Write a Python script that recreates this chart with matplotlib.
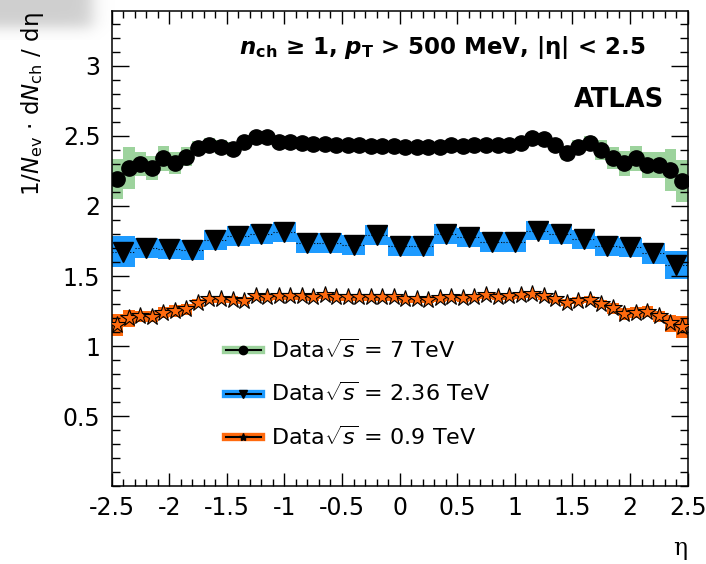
import numpy as np
import matplotlib
matplotlib.use("Agg")
import matplotlib.pyplot as plt
from matplotlib.lines import Line2D

plt.rcParams['font.family'] = ['DejaVu Sans']
plt.rcParams['mathtext.fontset'] = 'custom'
plt.rcParams['mathtext.rm'] = 'DejaVu Sans'
plt.rcParams['mathtext.it'] = 'DejaVu Sans:italic'
plt.rcParams['mathtext.bf'] = 'DejaVu Sans:bold'
plt.rcParams['mathtext.bfit'] = 'DejaVu Sans:bold:italic'

# 7 TeV, 50 bins of 0.1 in eta
eta_fine = np.linspace(-2.45, 2.45, 50)
val_7tev = [2.193, 2.269, 2.298, 2.274, 2.341, 2.305, 2.352, 2.412, 2.436, 2.424,
            2.405, 2.455, 2.491, 2.491, 2.455, 2.455, 2.450, 2.446, 2.443, 2.439,
            2.436, 2.432, 2.429, 2.429, 2.425,
            2.424, 2.424, 2.424, 2.424, 2.436, 2.431, 2.436, 2.436, 2.436, 2.436,
            2.448, 2.484, 2.476, 2.436, 2.376, 2.424, 2.448, 2.400, 2.341, 2.305,
            2.341, 2.293, 2.293, 2.257, 2.181]
sys_7tev = [0.14, 0.15, 0.085, 0.085, 0.09, 0.08, 0.07, 0.05, 0.05, 0.05,
            0.05, 0.04, 0.04, 0.04, 0.04, 0.035, 0.03, 0.03, 0.03, 0.03,
            0.03, 0.03, 0.03, 0.03, 0.03,
            0.03, 0.03, 0.03, 0.03, 0.03, 0.03, 0.03, 0.03, 0.03, 0.035,
            0.04, 0.04, 0.04, 0.04, 0.05, 0.05, 0.05, 0.07, 0.08, 0.09,
            0.09, 0.09, 0.09, 0.15, 0.15]

# 2.36 TeV, 25 bins of 0.2
eta_coarse = np.linspace(-2.4, 2.4, 25)
val_236 = [1.674, 1.698, 1.691, 1.686, 1.757, 1.786, 1.800, 1.816, 1.738, 1.734,
           1.721, 1.793, 1.712, 1.714, 1.800, 1.776, 1.745, 1.745, 1.824, 1.800,
           1.762, 1.714, 1.705, 1.662, 1.579]
sys_236 = [0.11, 0.07, 0.07, 0.07, 0.07, 0.07, 0.07, 0.07, 0.07, 0.07,
           0.07, 0.07, 0.07, 0.07, 0.07, 0.07, 0.07, 0.07, 0.07, 0.07,
           0.07, 0.07, 0.07, 0.077, 0.10]

# 0.9 TeV, 50 bins of 0.1
val_09 = [1.150, 1.198, 1.214, 1.209, 1.238, 1.250, 1.262, 1.309, 1.333, 1.333,
          1.329, 1.324, 1.357, 1.348, 1.357, 1.357, 1.357, 1.348, 1.364, 1.348,
          1.348, 1.348, 1.348, 1.348, 1.348,
          1.333, 1.333, 1.329, 1.341, 1.348, 1.341, 1.348, 1.364, 1.352, 1.357,
          1.364, 1.371, 1.357, 1.333, 1.309, 1.324, 1.329, 1.300, 1.269, 1.229,
          1.238, 1.245, 1.214, 1.162, 1.138]
sys_09 = [0.08, 0.06, 0.04, 0.04, 0.04, 0.04, 0.04, 0.03, 0.025, 0.025,
          0.025, 0.025, 0.025, 0.025, 0.025, 0.025, 0.025, 0.025, 0.025, 0.025,
          0.025, 0.025, 0.025, 0.025, 0.025,
          0.025, 0.025, 0.025, 0.025, 0.025, 0.025, 0.025, 0.025, 0.025, 0.025,
          0.025, 0.025, 0.025, 0.025, 0.025, 0.025, 0.025, 0.03, 0.04, 0.04,
          0.04, 0.04, 0.04, 0.06, 0.08]

green = '#9dd39d'
blue = '#1e9bff'
orange = '#ff6a0e'

fig = plt.figure(figsize=(7.06, 5.64), dpi=100)
ax = fig.add_axes([0.158, 0.138, 0.816, 0.842])

# faint grey smudge in the top-left corner of the original
sh = fig.add_axes([0, 1 - 40 / 564, 115 / 706, 40 / 564], zorder=-1)
xx, yy = np.meshgrid(np.arange(115), np.arange(40))
alpha = 0.42 / (1 + np.exp(-(92 - xx) / 5.0)) / (1 + np.exp(-(27 - yy) / 4.0))
img = np.zeros((40, 115, 4))
img[..., :3] = 0.55
img[..., 3] = alpha
sh.imshow(img, aspect='auto', interpolation='bilinear')
sh.axis('off')

v7, s7 = np.array(val_7tev), np.array(sys_7tev)
v2, s2 = np.array(val_236), np.array(sys_236)
v9, s9 = np.array(val_09), np.array(sys_09)

ax.bar(eta_fine, 2 * s7, bottom=v7 - s7, width=0.1, color=green, linewidth=0, zorder=1)
ax.bar(eta_coarse, 2 * s2, bottom=v2 - s2, width=0.2, color=blue, linewidth=0, zorder=1)
ax.bar(eta_fine, 2 * s9, bottom=v9 - s9, width=0.1, color=orange, linewidth=0, zorder=1)

eb = ax.errorbar(eta_coarse, v2, xerr=0.1, fmt='none', ecolor='k', elinewidth=0.8, zorder=2)
eb[2][0].set_linestyle(':')

ax.plot(eta_fine, v7, 'o', color='k', ms=11, zorder=3)
ax.plot(eta_coarse, v2, 'v', color='k', ms=15, zorder=3)
ax.plot(eta_fine, v9, '*', mfc=orange, mec='k', mew=0.8, ms=13, zorder=3)

ax.set_xlim(-2.5, 2.5)
ax.set_ylim(0, 3.39)
ax.set_xticks(np.arange(-2.5, 2.51, 0.5))
ax.set_xticklabels(['-2.5', '-2', '-1.5', '-1', '-0.5', '0', '0.5', '1', '1.5', '2', '2.5'])
ax.set_yticks([0.5, 1, 1.5, 2, 2.5, 3])
ax.set_yticklabels(['0.5', '1', '1.5', '2', '2.5', '3'])
ax.set_xticks(np.arange(-2.5, 2.51, 0.1), minor=True)
ax.set_yticks(np.arange(0, 3.39, 0.1), minor=True)
ax.tick_params(which='both', direction='in', top=True, right=True, labelsize=17, width=1)
ax.tick_params(axis='x', which='major', length=9.5, pad=7)
ax.tick_params(axis='x', which='minor', length=4.7)
ax.tick_params(axis='y', which='major', length=12, pad=8)
ax.tick_params(axis='y', which='minor', length=6)
for sp in ax.spines.values():
    sp.set_linewidth(1.1)

ax.set_xlabel('η', loc='right', fontsize=17, labelpad=12, family='DejaVu Serif')
ax.set_ylabel(r'1/$N_{\mathrm{ev}}$ · d$N_{\mathrm{ch}}$ / dη', loc='top', fontsize=16.5, labelpad=12)
ax.yaxis.label.set_y(0.997)

ax.text(0.926, 0.924, r'$\mathbfit{n}_{\mathbf{ch}}$ ≥ 1, $\mathbfit{p}_{\mathbf{T}}$ > 500 MeV, |η| < 2.5',
        transform=ax.transAxes, ha='right', va='center', fontsize=16.5, fontweight='bold')
ax.text(0.959, 0.813, 'ATLAS', transform=ax.transAxes, ha='right', va='center',
        fontsize=18.5, fontweight='bold')

handles = [
    (Line2D([], [], color=green, lw=6), Line2D([], [], color='k', lw=1.5, marker='o', ms=6)),
    (Line2D([], [], color=blue, lw=6), Line2D([], [], color='k', lw=1.5, marker='v', ms=6)),
    (Line2D([], [], color=orange, lw=6), Line2D([], [], color='k', lw=1.5, marker='*', ms=6)),
]
labels = [r'Data$\sqrt{s}$ = 7 TeV', r'Data$\sqrt{s}$ = 2.36 TeV', r'Data$\sqrt{s}$ = 0.9 TeV']
ax.legend(handles, labels, loc='upper left', bbox_to_anchor=(0.198, 0.312), frameon=False,
          fontsize=16, handlelength=1.6, handletextpad=0.45, labelspacing=0.92,
          borderpad=0, borderaxespad=0)

fig.savefig('out.png', dpi=100)
